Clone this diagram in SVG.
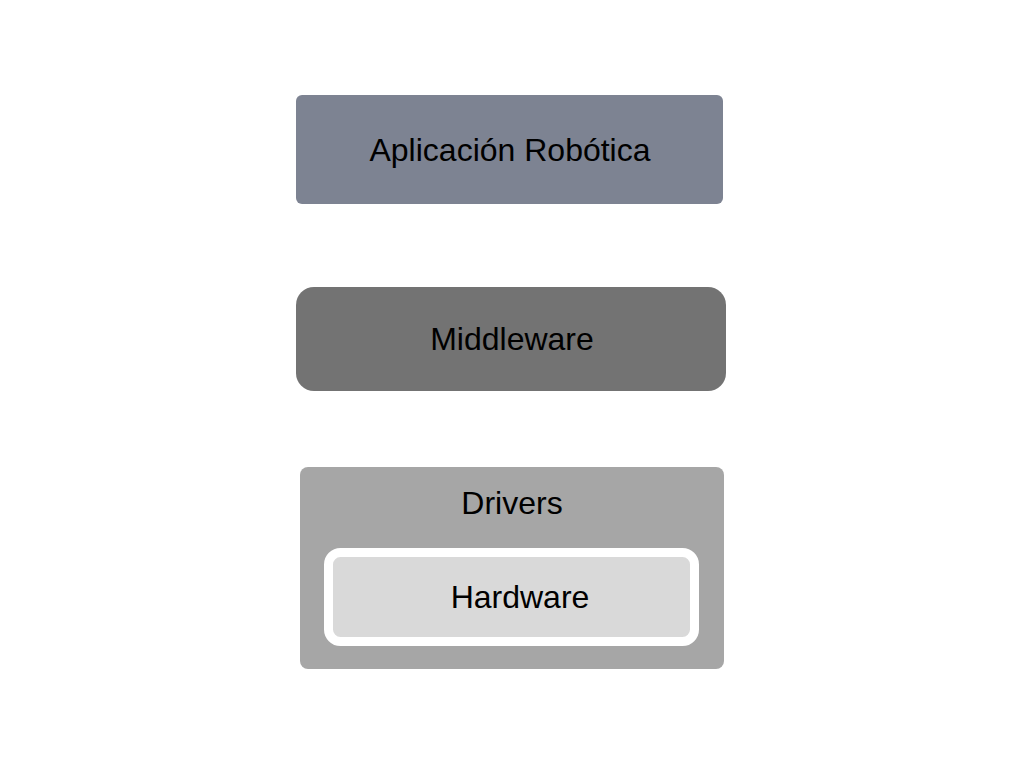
<svg xmlns="http://www.w3.org/2000/svg" width="1024" height="768" viewBox="0 0 1024 768">
<style>
text{font-family:"Liberation Sans",Arial,sans-serif;font-size:32px;fill:#000;text-anchor:middle}
</style>
<rect width="1024" height="768" fill="#fff"/>
<g id="app">
<rect x="296" y="95" width="427" height="109" rx="6" fill="#7d8392"/>
<text x="510" y="161">Aplicación Robótica</text>
</g>
<g id="middleware">
<rect x="296" y="287" width="430" height="104" rx="18" fill="#737373"/>
<text x="512" y="350">Middleware</text>
</g>
<g id="drivers">
<rect x="300" y="467" width="424" height="202" rx="8" fill="#a6a6a6"/>
<text x="512" y="514">Drivers</text>
</g>
<g id="hardware">
<rect x="328.5" y="552.5" width="366" height="89" rx="12" fill="#d9d9d9" stroke="#fff" stroke-width="9"/>
<text x="520" y="608">Hardware</text>
</g>
<g id="connectors"></g>
</svg>
